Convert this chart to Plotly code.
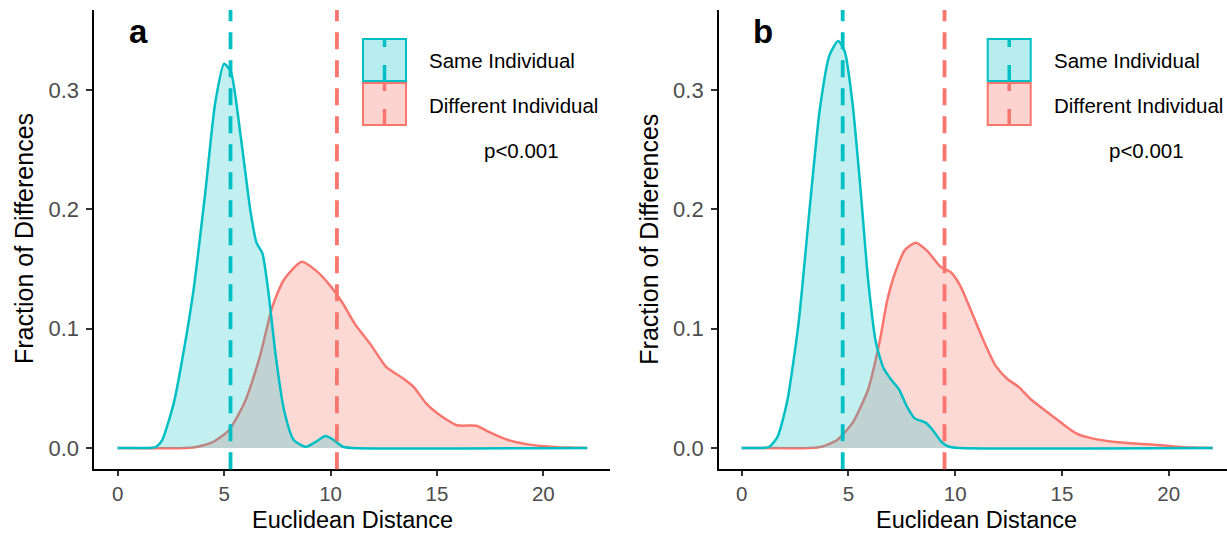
import plotly.graph_objects as go

W, H = 1227, 535
TEAL = "#00BFC4"
RED = "#F8766D"
FONT = "Liberation Sans, Arial, Helvetica, sans-serif"

# ---------------- data ----------------
groups = ["Same Individual", "Different Individual"]
panels = ["a", "b"]

a_same_x = [0, 1.5, 1.81, 2.09, 2.64, 3.10, 3.56, 4.12, 4.58, 5.00, 5.32, 5.78, 6.24, 6.52, 6.80,
            7.07, 7.44, 7.81, 8.27, 8.85, 9.30, 9.75, 10.12, 10.58, 11.0, 22.06]
a_same_y = [0, 0, 0.001, 0.0066, 0.038, 0.081, 0.132, 0.215, 0.289, 0.322, 0.315, 0.261, 0.198,
            0.172, 0.163, 0.132, 0.075, 0.032, 0.0066, 0.001, 0.005, 0.010, 0.007, 0.001, 0, 0]
a_diff_x = [0, 3.2, 3.75, 4.49, 5.23, 5.96, 6.70, 7.26, 7.81, 8.64, 9.29, 10.03, 10.58, 11.14, 11.87,
            12.61, 13.35, 13.91, 14.46, 15.01, 15.94, 16.86, 17.41, 18.34, 19.26, 20.37, 21.2, 22.06]
a_diff_y = [0, 0, 0.001, 0.005, 0.015, 0.038, 0.078, 0.118, 0.141, 0.156, 0.149, 0.135, 0.121, 0.104,
            0.087, 0.068, 0.059, 0.051, 0.038, 0.029, 0.019, 0.0186, 0.0137, 0.0066, 0.003, 0.001,
            0.0003, 0]

b_same_x = [0, 1.0, 1.30, 1.67, 2.12, 2.66, 3.20, 3.66, 4.11, 4.52, 4.83, 5.19, 5.56, 5.92, 6.28,
            6.64, 7.01, 7.37, 7.73, 8.09, 8.63, 8.99, 9.36, 9.72, 10.2, 22.06]
b_same_y = [0, 0, 0.001, 0.009, 0.038, 0.104, 0.204, 0.284, 0.329, 0.341, 0.332, 0.289, 0.218, 0.141,
            0.089, 0.067, 0.057, 0.049, 0.035, 0.025, 0.021, 0.014, 0.005, 0.001, 0, 0]
b_diff_x = [0, 3.2, 3.75, 4.47, 5.19, 5.92, 6.46, 6.82, 7.19, 7.65, 8.15, 8.70, 9.30, 9.81, 10.26,
            10.81, 11.35, 11.89, 12.43, 12.98, 13.52, 14.24, 14.97, 15.69, 16.42, 17.50, 18.41,
            19.67, 20.40, 21.2, 22.06]
b_diff_y = [0, 0, 0.001, 0.0066, 0.021, 0.049, 0.089, 0.124, 0.147, 0.166, 0.172, 0.165, 0.152, 0.147,
            0.135, 0.112, 0.089, 0.069, 0.058, 0.051, 0.041, 0.031, 0.021, 0.012, 0.008, 0.005,
            0.0037, 0.0023, 0.001, 0.0003, 0]

a_means = [5.3, 10.3]   # same, different
b_means = [4.73, 9.5]

x_ticks = [0, 5, 10, 15, 20]
y_ticks = [0.0, 0.1, 0.2, 0.3]
y_ticktext = ["0.0", "0.1", "0.2", "0.3"]
p_text = "p<0.001"

# ---------------- layout helpers (pixel geometry) ----------------
def px(xp):
    return xp / W

def py(yp):
    return (H - yp) / H

panel_left = [94.3, 719.0]
panel_right = [610.0, 1227.0]
top_px, bot_px = 10.0, 469.3
xranges = [[-1.1, 23.13], [-1.063, 22.73]]
yrange = [-0.0179, 0.367]
XTICKFONT = dict(size=20.5, color="#4D4D4D", family=FONT)
YTICKFONT = dict(size=22, color="#4D4D4D", family=FONT)

fig = go.Figure()

series = [
    (a_same_x, a_same_y, a_diff_x, a_diff_y, a_means),
    (b_same_x, b_same_y, b_diff_x, b_diff_y, b_means),
]

for i, (sx, sy, dx, dy, means) in enumerate(series):
    xa = "x" if i == 0 else "x2"
    ya = "y" if i == 0 else "y2"
    fig.add_trace(go.Scatter(x=dx, y=dy, mode="lines", fill="tozeroy",
                             fillcolor="rgba(248,118,109,0.28)",
                             line=dict(color=RED, width=2.5, shape="spline", smoothing=0.6),
                             xaxis=xa, yaxis=ya, showlegend=False, name=groups[1]))
    fig.add_trace(go.Scatter(x=sx, y=sy, mode="lines", fill="tozeroy",
                             fillcolor="rgba(0,191,196,0.24)",
                             line=dict(color=TEAL, width=2.5, shape="spline", smoothing=0.6),
                             xaxis=xa, yaxis=ya, showlegend=False, name=groups[0]))
    # mean lines
    for m, col in zip(means, [TEAL, RED]):
        fig.add_shape(type="line", xref=xa, yref=f"{ya} domain", x0=m, x1=m, y0=0, y1=1,
                      line=dict(color=col, width=3.8, dash="17px,11px"))

layout = dict(
    width=W, height=H, margin=dict(l=0, r=0, t=0, b=0),
    paper_bgcolor="white", plot_bgcolor="white", showlegend=False,
    font=dict(family=FONT),
)
for i in range(2):
    sfx = "" if i == 0 else "2"
    layout[f"xaxis{sfx}"] = dict(
        domain=[px(panel_left[i]), px(panel_right[i])], range=xranges[i],
        anchor=f"y{sfx}", showline=True, linecolor="black", linewidth=1.8,
        showgrid=False, zeroline=False, ticks="outside", ticklen=5, tickwidth=1.5,
        tickcolor="#333333", tickvals=x_ticks,
        tickfont=XTICKFONT, ticklabelstandoff=0,
    )
    layout[f"yaxis{sfx}"] = dict(
        domain=[py(bot_px), py(top_px)], range=yrange,
        anchor=f"x{sfx}", showline=True, linecolor="black", linewidth=1.8,
        showgrid=False, zeroline=False, ticks="outside", ticklen=6, tickwidth=1.5,
        tickcolor="#333333", tickvals=y_ticks, ticktext=y_ticktext,
        tickfont=YTICKFONT, ticklabelstandoff=3,
    )
fig.update_layout(**layout)

annotations = []
shapes = []
for i in range(2):
    off = panel_left[i] - panel_left[0]
    cx = (panel_left[0] + 610.0) / 2 + off
    # axis titles
    annotations.append(dict(text="Euclidean Distance", xref="paper", yref="paper",
                            x=px(cx), y=0.0, xanchor="center", yanchor="bottom",
                            showarrow=False, font=dict(size=23.5, color="black", family=FONT)))
    annotations.append(dict(text="Fraction of Differences", xref="paper", yref="paper",
                            x=px(24 + off), y=py(239), xanchor="center", yanchor="middle",
                            textangle=-90, showarrow=False,
                            font=dict(size=25, color="black", family=FONT)))
    # panel label
    annotations.append(dict(text=f"<b>{panels[i]}</b>", xref="paper", yref="paper",
                            x=px(138 + off), y=py(31), xanchor="center", yanchor="middle",
                            showarrow=False, font=dict(size=33, color="black", family=FONT)))
    # p value
    annotations.append(dict(text=p_text, xref="paper", yref="paper",
                            x=px(521.7 + off), y=py(150), xanchor="center", yanchor="middle",
                            showarrow=False, font=dict(size=20.5, color="black", family=FONT)))
    # legend
    rows = [(39, 81, TEAL, "rgba(0,191,196,0.28)", groups[0], 60),
            (83, 125, RED, "rgba(248,118,109,0.32)", groups[1], 105)]
    for (t, b, col, fcol, lab, ty) in rows:
        x0, x1 = 363 + off, 406 + off
        shapes.append(dict(type="rect", xref="paper", yref="paper", x0=px(x0), x1=px(x1),
                           y0=py(b), y1=py(t), fillcolor=fcol, line=dict(color=col, width=2)))
        xc = (x0 + x1) / 2
        shapes.append(dict(type="line", xref="paper", yref="paper", x0=px(xc), x1=px(xc),
                           y0=py(t - 1), y1=py(t + 8), line=dict(color=col, width=3.5)))
        shapes.append(dict(type="line", xref="paper", yref="paper", x0=px(xc), x1=px(xc),
                           y0=py(b - 16), y1=py(b + 1), line=dict(color=col, width=3.5)))
        annotations.append(dict(text=lab, xref="paper", yref="paper",
                                x=px(427 + off), y=py(ty), xanchor="left", yanchor="middle",
                                showarrow=False, font=dict(size=20.5, color="black", family=FONT)))

fig.update_layout(annotations=annotations)
for s in shapes:
    fig.add_shape(**s)

fig.write_html("out.html")
